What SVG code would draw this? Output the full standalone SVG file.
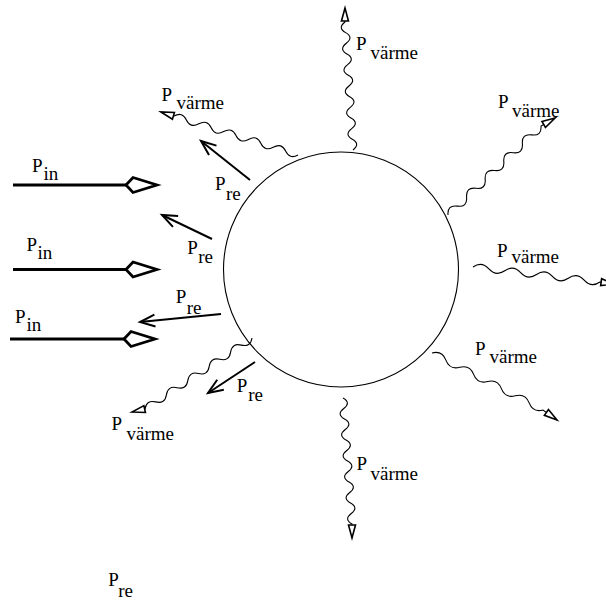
<svg xmlns="http://www.w3.org/2000/svg" width="606" height="600" viewBox="0 0 606 600">
<style>
.wave{fill:none;stroke:#000;stroke-width:1.1;marker-end:url(#heat)}
.pre{fill:none;stroke:#000;stroke-width:2;marker-end:url(#vee)}
.pin{fill:none;stroke:#000;stroke-width:3;marker-end:url(#diamond)}
</style>
<defs>
<marker id="heat" markerUnits="userSpaceOnUse" markerWidth="24" markerHeight="14" viewBox="-16 -7 20 14" refX="0" refY="0" orient="auto" overflow="visible">
<path d="M0,0 L-13,-3.5 L-13,3.5 Z" fill="#fff" stroke="#000" stroke-width="1.6"/>
</marker>
<marker id="vee" markerUnits="userSpaceOnUse" markerWidth="20" markerHeight="16" viewBox="-17 -8 20 16" refX="0" refY="0" orient="auto" overflow="visible">
<path d="M-15,-6 L0,0 L-15,6" fill="none" stroke="#000" stroke-width="2"/>
</marker>
<marker id="diamond" markerUnits="userSpaceOnUse" markerWidth="40" markerHeight="22" viewBox="-4 -11 40 22" refX="0" refY="0" orient="auto" overflow="visible">
<path d="M0,0 L7,-7.5 L31,0 L7,7.5 Z" fill="#fff" stroke="#000" stroke-width="2.8" stroke-linejoin="miter"/>
</marker>
</defs>

<g id="body">
<circle cx="341" cy="269.5" r="117.5" fill="none" stroke="#000" stroke-width="1.1"/>
</g>

<g id="connectors">
<path class="pin" d="M13,185 L126,185"/>
<path class="pin" d="M13,269.5 L126,269.5"/>
<path class="pin" d="M10,339 L124,339"/>
<path class="pre" d="M250,180 L201,141"/>
<path class="pre" d="M212,239 L162,215"/>
<path class="pre" d="M221,314 L140,322"/>
<path class="pre" d="M255,362 L208,393"/>
<path class="wave" d="M353,150 q7.68,-5.99 -0.67,-10.67 t-0.67,-10.67 t-0.67,-10.67 t-0.67,-10.67 t-0.67,-10.67 t-0.67,-10.67 t-0.67,-10.67 t-0.67,-10.67 t-0.67,-10.67 t-0.67,-10.67 t-0.67,-10.67 t-0.67,-10.67 L345,8"/>
<path class="wave" d="M448,215 q-0.88,-10.23 9.3,-8.9 t9.3,-8.9 t9.3,-8.9 t9.3,-8.9 t9.3,-8.9 t9.3,-8.9 t9.3,-8.9 t9.3,-8.9 t9.3,-8.9 t9.3,-8.9 L555,118"/>
<path class="wave" d="M473,267 q8.76,-6.01 15.88,1.88 t15.88,1.88 t15.88,1.88 t15.88,1.88 t15.88,1.88 t15.88,1.88 t15.88,1.88 t15.88,1.88 L614,284"/>
<path class="wave" d="M432,353 q10.14,-2.67 13.88,7.13 t13.88,7.13 t13.88,7.13 t13.88,7.13 t13.88,7.13 t13.88,7.13 t13.88,7.13 t13.88,7.13 L557,420"/>
<path class="wave" d="M343,398 q8.35,4.68 0.75,10.5 t0.75,10.5 t0.75,10.5 t0.75,10.5 t0.75,10.5 t0.75,10.5 t0.75,10.5 t0.75,10.5 t0.75,10.5 t0.75,10.5 t0.75,10.5 t0.75,10.5 L352,538"/>
<path class="wave" d="M252,338 q-1.48,9.38 -10.7,7.1 t-10.7,7.1 t-10.7,7.1 t-10.7,7.1 t-10.7,7.1 t-10.7,7.1 t-10.7,7.1 t-10.7,7.1 t-10.7,7.1 t-10.7,7.1 L132,412"/>
<path class="wave" d="M298,155 q-8.5,4.6 -12.4,-3.9 t-12.4,-3.9 t-12.4,-3.9 t-12.4,-3.9 t-12.4,-3.9 t-12.4,-3.9 t-12.4,-3.9 t-12.4,-3.9 t-12.4,-3.9 t-12.4,-3.9 L161,112"/>
</g>

<g id="labels" font-family="Liberation Serif, Times New Roman, serif" font-size="19" fill="#000">
<g id="label-pin-1"><text x="32" y="172">P</text><text x="43.5" y="180">in</text></g>
<g id="label-pin-2"><text x="26.5" y="251">P</text><text x="37.5" y="259">in</text></g>
<g id="label-pin-3"><text x="15" y="322.5">P</text><text x="26.5" y="330.5">in</text></g>

<g id="label-pre-1"><text x="215" y="190">P</text><text x="226" y="200">re</text></g>
<g id="label-pre-2"><text x="187.3" y="254.3">P</text><text x="198.3" y="263.3">re</text></g>
<g id="label-pre-3"><text x="175.7" y="303.3">P</text><text x="186.7" y="314.3">re</text></g>
<g id="label-pre-4"><text x="236.7" y="391.7">P</text><text x="248.3" y="401">re</text></g>
<g id="label-pre-5"><text x="108.3" y="586">P</text><text x="118.3" y="596.5">re</text></g>

<g id="label-heat-1"><text x="356" y="50">P</text><text x="370.5" y="59">värme</text></g>
<g id="label-heat-2"><text x="498" y="108">P</text><text x="512" y="116.5">värme</text></g>
<g id="label-heat-3"><text x="497" y="257">P</text><text x="511.5" y="262.5">värme</text></g>
<g id="label-heat-4"><text x="475" y="354.5">P</text><text x="489.5" y="363">värme</text></g>
<g id="label-heat-5"><text x="356.5" y="470">P</text><text x="370.5" y="480">värme</text></g>
<g id="label-heat-6"><text x="111.5" y="430">P</text><text x="126.5" y="440">värme</text></g>
<g id="label-heat-7"><text x="161.5" y="100.5">P</text><text x="176.5" y="108.5">värme</text></g>
</g>
</svg>
